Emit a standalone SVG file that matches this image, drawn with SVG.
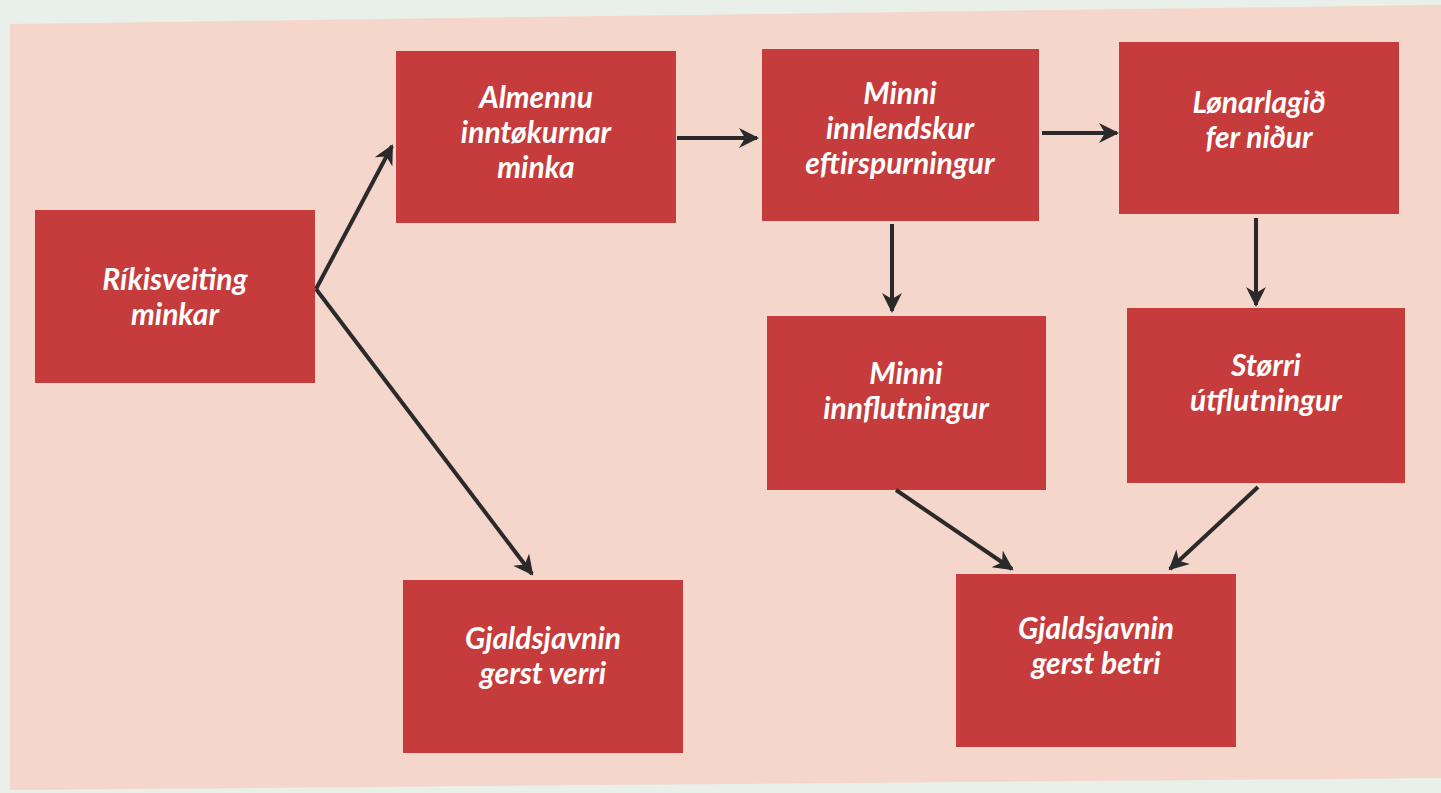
<svg xmlns="http://www.w3.org/2000/svg" width="1441" height="793" viewBox="0 0 1441 793">
<defs>
<style>
.box{fill:#c63b3b}
.t{font-family:Lato,"Open Sans","Liberation Sans",sans-serif;font-weight:700;font-style:italic;font-size:30px;fill:#ffffff;text-anchor:middle}
.c{stroke:#2b2a2a;stroke-width:4;fill:none;marker-end:url(#ah)}
</style>
<marker id="ah" viewBox="0 0 10 10" refX="9" refY="5" markerWidth="6" markerHeight="5" orient="auto" markerUnits="strokeWidth">
<path d="M0,0 L10,5 L0,10 L3,5 Z" fill="#2b2a2a"/>
</marker>
</defs>
<rect width="1441" height="793" fill="#e9efe9"/>
<polygon points="10,24 1433,5 1441,5 1441,778 10,790" fill="#f5d6cb"/>
<g id="n1"><rect class="box" x="35" y="210" width="280" height="173"/><text class="t" x="175" y="290">Ríkisveiting</text><text class="t" x="175" y="325">minkar</text></g>
<g id="n2"><rect class="box" x="396" y="51" width="280" height="172"/><text class="t" x="536" y="108">Almennu</text><text class="t" x="536" y="143">inntøkurnar</text><text class="t" x="536" y="178">minka</text></g>
<g id="n3"><rect class="box" x="762" y="49" width="277" height="172"/><text class="t" x="900" y="104">Minni</text><text class="t" x="900" y="139">innlendskur</text><text class="t" x="900" y="174">eftirspurningur</text></g>
<g id="n4"><rect class="box" x="1119" y="42" width="280" height="172"/><text class="t" x="1259" y="113">Lønarlagið</text><text class="t" x="1259" y="148">fer niður</text></g>
<g id="n5"><rect class="box" x="767" y="316" width="279" height="174"/><text class="t" x="906" y="384">Minni</text><text class="t" x="906" y="419">innflutningur</text></g>
<g id="n6"><rect class="box" x="1127" y="308" width="278" height="175"/><text class="t" x="1266" y="376">Størri</text><text class="t" x="1266" y="411">útflutningur</text></g>
<g id="n7"><rect class="box" x="403" y="580" width="280" height="173"/><text class="t" x="543" y="649">Gjaldsjavnin</text><text class="t" x="543" y="684">gerst verri</text></g>
<g id="n8"><rect class="box" x="956" y="574" width="280" height="173"/><text class="t" x="1096" y="639">Gjaldsjavnin</text><text class="t" x="1096" y="674">gerst betri</text></g>
<g id="connectors">
<line class="c" x1="316" y1="289" x2="392" y2="146"/>
<line class="c" x1="316" y1="289" x2="532" y2="574"/>
<line class="c" x1="677" y1="138" x2="757" y2="138"/>
<line class="c" x1="1042" y1="133" x2="1117" y2="133"/>
<line class="c" x1="892" y1="224" x2="892" y2="311"/>
<line class="c" x1="1256" y1="218" x2="1256" y2="305"/>
<line class="c" x1="896" y1="490" x2="1012" y2="569"/>
<line class="c" x1="1258" y1="487" x2="1170" y2="569"/>
</g>
</svg>
